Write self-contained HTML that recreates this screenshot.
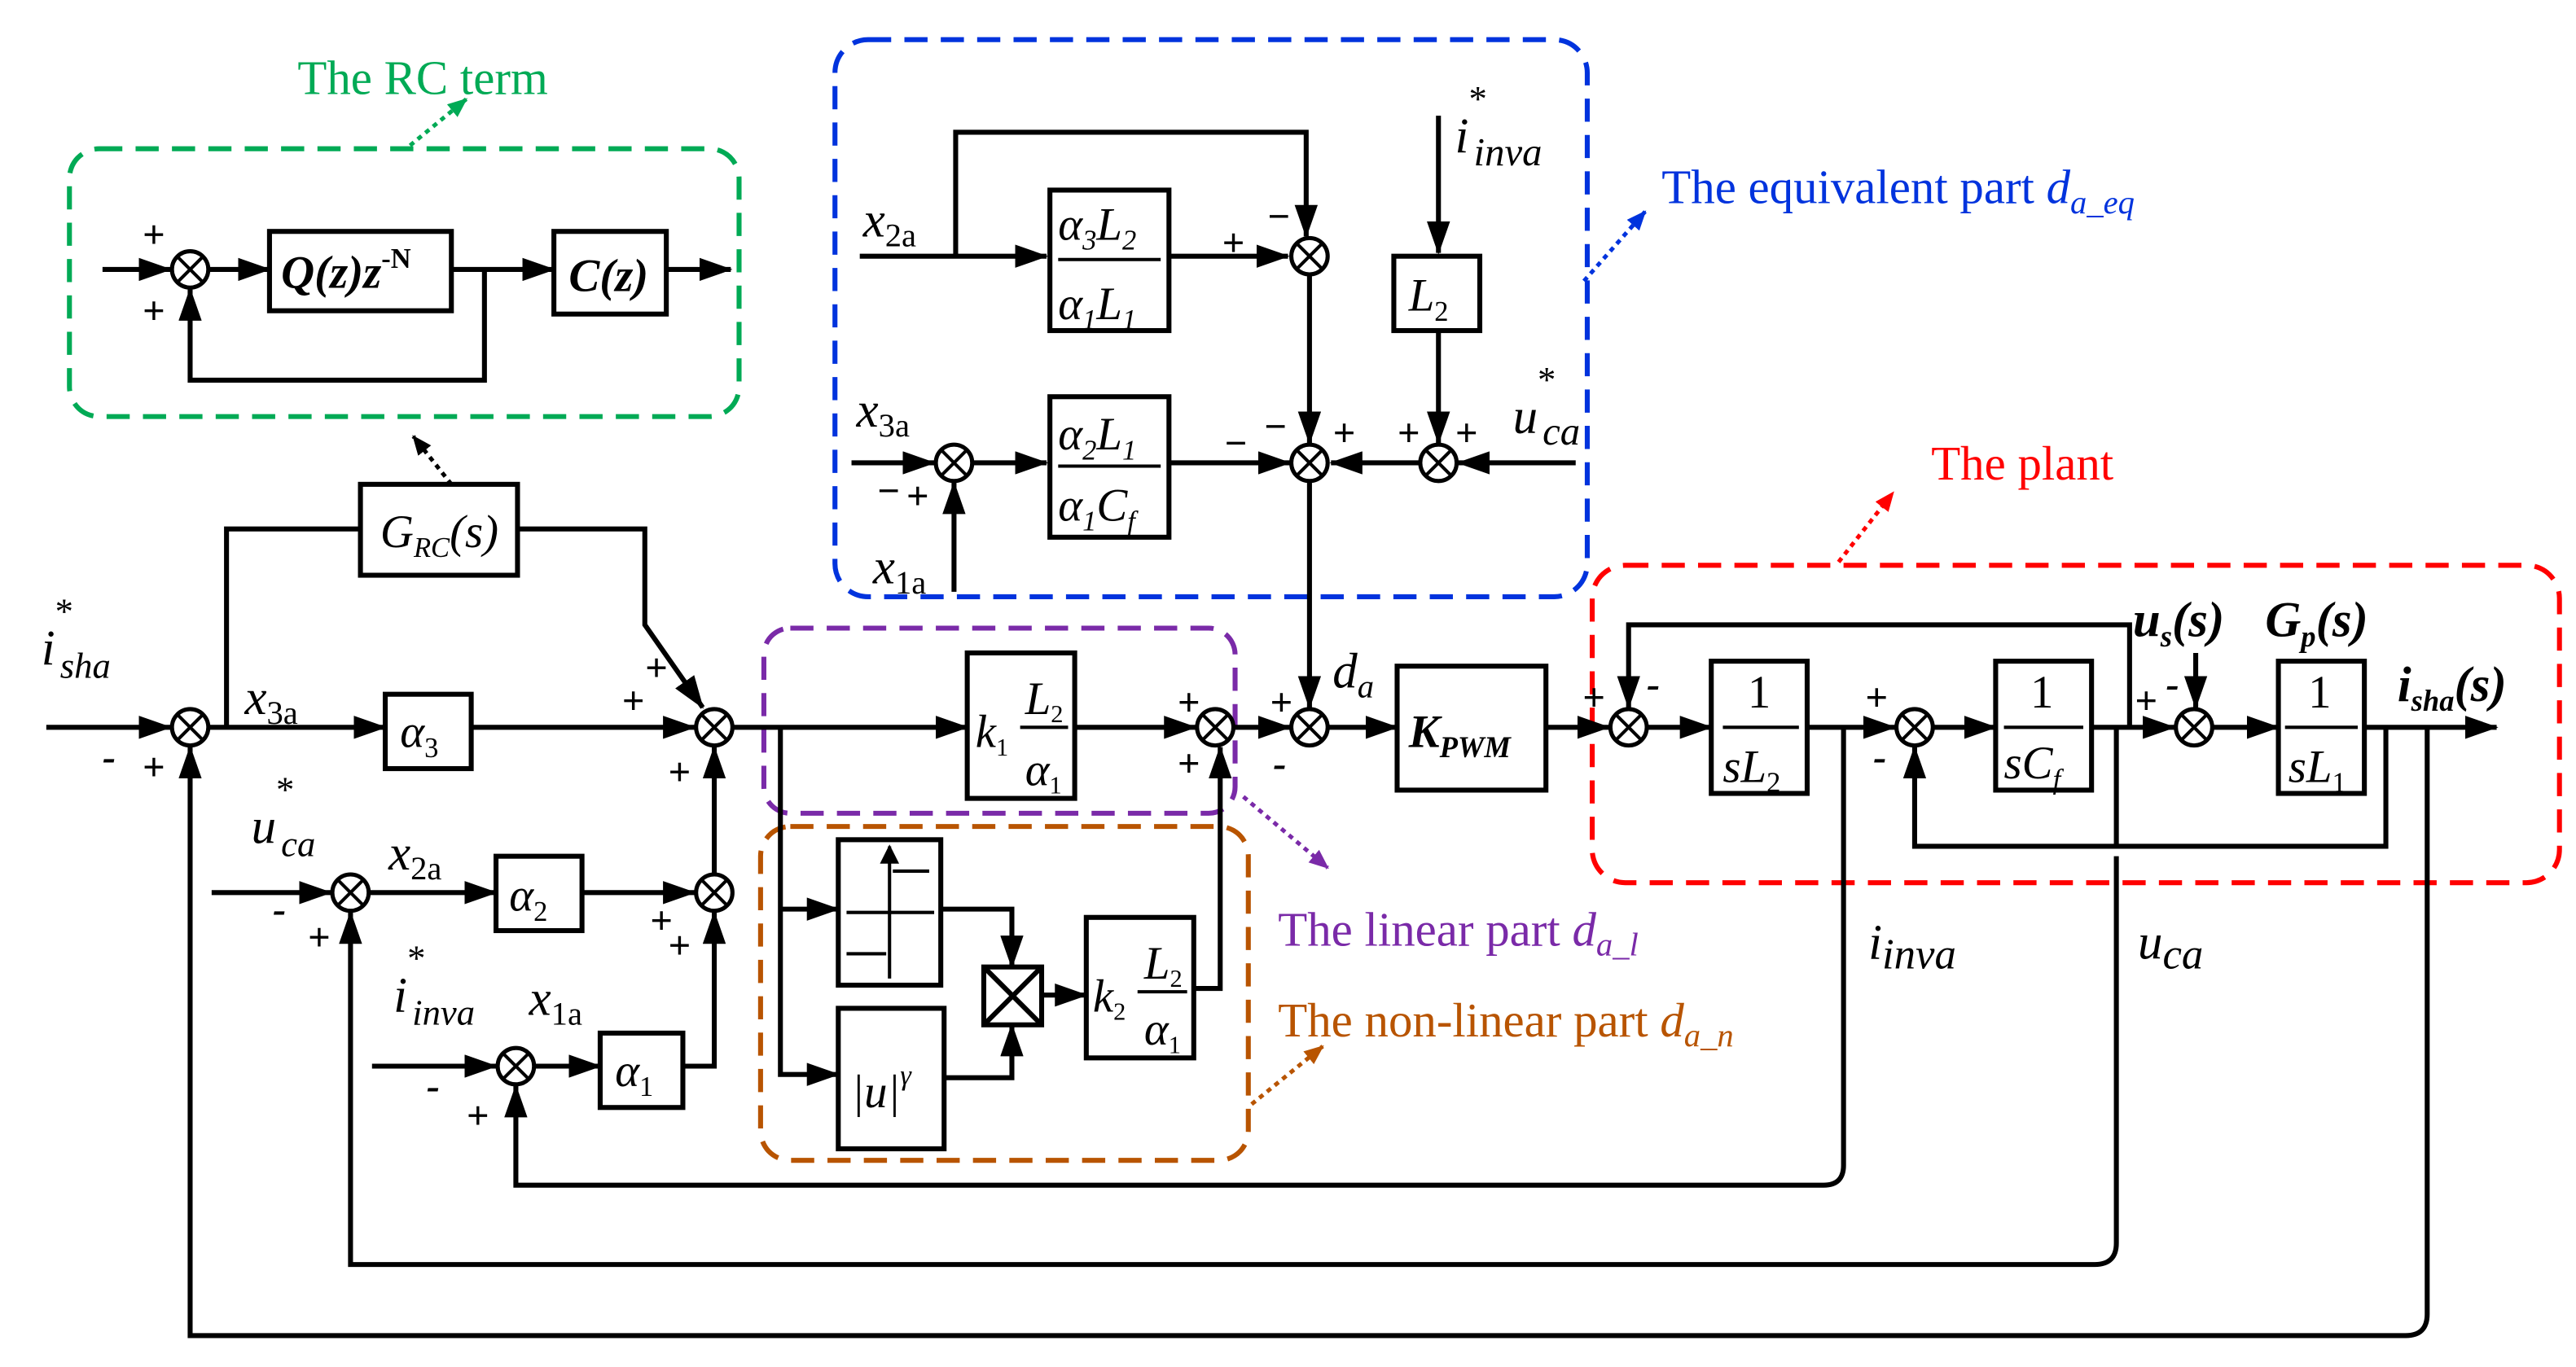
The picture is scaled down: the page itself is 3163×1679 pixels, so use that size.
<!DOCTYPE html>
<html><head><meta charset="utf-8"><style>
html,body{margin:0;padding:0;background:#fff}
svg{display:block}
text{font-family:"Liberation Serif",serif;font-style:italic}
.b{font-weight:bold}
.n{font-style:normal}
</style></head><body>
<svg width="3163" height="1679" viewBox="0 0 1558 827" preserveAspectRatio="none" xmlns="http://www.w3.org/2000/svg">
<defs>
<marker id="a" viewBox="0 0 20 14" refX="19" refY="7" markerWidth="20" markerHeight="14" markerUnits="userSpaceOnUse" orient="auto"><path d="M0,0 L20,7 L0,14 Z" fill="#000"/></marker>
<marker id="ag" viewBox="0 0 12 10" refX="11" refY="5" markerWidth="12" markerHeight="10" markerUnits="userSpaceOnUse" orient="auto"><path d="M0,0 L12,5 L0,10 Z" fill="#0a5"/></marker>
<marker id="ab" viewBox="0 0 12 10" refX="11" refY="5" markerWidth="12" markerHeight="10" markerUnits="userSpaceOnUse" orient="auto"><path d="M0,0 L12,5 L0,10 Z" fill="#0033dd"/></marker>
<marker id="ar" viewBox="0 0 12 10" refX="11" refY="5" markerWidth="12" markerHeight="10" markerUnits="userSpaceOnUse" orient="auto"><path d="M0,0 L12,5 L0,10 Z" fill="#f00"/></marker>
<marker id="ap" viewBox="0 0 12 10" refX="11" refY="5" markerWidth="12" markerHeight="10" markerUnits="userSpaceOnUse" orient="auto"><path d="M0,0 L12,5 L0,10 Z" fill="#7a2aa8"/></marker>
<marker id="ao" viewBox="0 0 12 10" refX="11" refY="5" markerWidth="12" markerHeight="10" markerUnits="userSpaceOnUse" orient="auto"><path d="M0,0 L12,5 L0,10 Z" fill="#b85400"/></marker>
<marker id="ak" viewBox="0 0 12 10" refX="11" refY="5" markerWidth="12" markerHeight="10" markerUnits="userSpaceOnUse" orient="auto"><path d="M0,0 L12,5 L0,10 Z" fill="#000"/></marker>
<g id="s"><circle r="11" fill="#fff" stroke="#000" stroke-width="2.5"/><path d="M-7.5,-7.5L7.5,7.5M7.5,-7.5L-7.5,7.5" stroke="#000" stroke-width="2"/></g>
</defs>

<!-- dashed groups -->
<rect x="42" y="90" width="405" height="162" rx="18" fill="none" stroke="#0a5" stroke-width="3" stroke-dasharray="14,8"/>
<rect x="505" y="24" width="455" height="337" rx="20" fill="none" stroke="#0033dd" stroke-width="3" stroke-dasharray="14,8"/>
<rect x="963" y="342" width="585" height="192" rx="20" fill="none" stroke="#f00" stroke-width="3" stroke-dasharray="14,8"/>
<rect x="462" y="380" width="285" height="112" rx="16" fill="none" stroke="#7a2aa8" stroke-width="3" stroke-dasharray="14,8"/>
<rect x="460" y="500" width="295" height="202" rx="18" fill="none" stroke="#b85400" stroke-width="3" stroke-dasharray="14,8"/>

<text x="180" y="57" font-size="29" fill="#0a5" class="n">The RC term</text>
<line x1="248" y1="88" x2="282" y2="60" stroke="#0a5" stroke-width="2.5" stroke-dasharray="3,3" marker-end="url(#ag)"/>
<text x="1005" y="123" font-size="29" fill="#0033dd"><tspan class="n">The equivalent part </tspan>d<tspan font-size="20" dy="6">a_eq</tspan></text>
<line x1="958" y1="170" x2="995" y2="128" stroke="#0033dd" stroke-width="2.5" stroke-dasharray="3,3" marker-end="url(#ab)"/>
<text x="1168" y="290" font-size="29" fill="#f00" class="n">The plant</text>
<line x1="1112" y1="340" x2="1145" y2="298" stroke="#f00" stroke-width="2.5" stroke-dasharray="3,3" marker-end="url(#ar)"/>
<text x="773" y="572" font-size="29" fill="#7a2aa8"><tspan class="n">The linear part </tspan>d<tspan font-size="20" dy="6">a_l</tspan></text>
<line x1="752" y1="482" x2="803" y2="525" stroke="#7a2aa8" stroke-width="2.5" stroke-dasharray="3,3" marker-end="url(#ap)"/>
<text x="773" y="627" font-size="29" fill="#b85400"><tspan class="n">The non-linear part </tspan>d<tspan font-size="20" dy="6">a_n</tspan></text>
<line x1="757" y1="668" x2="800" y2="633" stroke="#b85400" stroke-width="2.5" stroke-dasharray="3,3" marker-end="url(#ao)"/>
<line x1="273" y1="293" x2="250" y2="264" stroke="#000" stroke-width="2.5" stroke-dasharray="3,3" marker-end="url(#ak)"/>

<g stroke="#000" stroke-width="3" fill="none">
<!-- RC term -->
<line x1="62" y1="163" x2="103" y2="163" marker-end="url(#a)"/>
<line x1="126" y1="163" x2="163" y2="163" marker-end="url(#a)"/>
<line x1="273" y1="163" x2="335" y2="163" marker-end="url(#a)"/>
<line x1="403" y1="163" x2="442" y2="163" marker-end="url(#a)"/>
<polyline points="293,163 293,230 115,230 115,175" marker-end="url(#a)"/>
<rect x="163" y="140" width="110" height="48" fill="#fff"/>
<rect x="335" y="140" width="68" height="50" fill="#fff"/>

<!-- equivalent part -->
<line x1="520" y1="155" x2="633" y2="155" marker-end="url(#a)"/>
<polyline points="578,155 578,80 790,80 790,143" marker-end="url(#a)"/>
<line x1="707" y1="155" x2="779" y2="155" marker-end="url(#a)"/>
<line x1="792" y1="166" x2="792" y2="268" marker-end="url(#a)"/>
<line x1="870" y1="70" x2="870" y2="153" marker-end="url(#a)"/>
<line x1="870" y1="200" x2="870" y2="268" marker-end="url(#a)"/>
<line x1="515" y1="280" x2="565" y2="280" marker-end="url(#a)"/>
<line x1="577" y1="358" x2="577" y2="292" marker-end="url(#a)"/>
<line x1="588" y1="280" x2="633" y2="280" marker-end="url(#a)"/>
<line x1="707" y1="280" x2="780" y2="280" marker-end="url(#a)"/>
<line x1="858" y1="280" x2="805" y2="280" marker-end="url(#a)"/>
<line x1="953" y1="280" x2="882" y2="280" marker-end="url(#a)"/>
<line x1="792" y1="292" x2="792" y2="428" marker-end="url(#a)"/>
<rect x="635" y="115" width="72" height="85" fill="#fff"/>
<rect x="635" y="240" width="72" height="85" fill="#fff"/>
<rect x="843" y="155" width="52" height="45" fill="#fff"/>

<!-- main path -->
<line x1="28" y1="440" x2="103" y2="440" marker-end="url(#a)"/>
<line x1="126" y1="440" x2="233" y2="440" marker-end="url(#a)"/>
<line x1="285" y1="440" x2="420" y2="440" marker-end="url(#a)"/>
<polyline points="137,440 137,320 218,320"/>
<polyline points="313,320 390,320 390,378 425,428" marker-end="url(#a)"/>
<rect x="218" y="293" width="95" height="55" fill="#fff"/>
<rect x="233" y="420" width="52" height="45" fill="#fff"/>
<line x1="443" y1="440" x2="585" y2="440" marker-end="url(#a)"/>
<line x1="650" y1="440" x2="723" y2="440" marker-end="url(#a)"/>
<line x1="746" y1="440" x2="780" y2="440" marker-end="url(#a)"/>
<line x1="803" y1="440" x2="845" y2="440" marker-end="url(#a)"/>
<line x1="935" y1="440" x2="973" y2="440" marker-end="url(#a)"/>
<line x1="996" y1="440" x2="1035" y2="440" marker-end="url(#a)"/>
<line x1="1093" y1="440" x2="1146" y2="440" marker-end="url(#a)"/>
<line x1="1169" y1="440" x2="1207" y2="440" marker-end="url(#a)"/>
<line x1="1265" y1="440" x2="1315" y2="440" marker-end="url(#a)"/>
<line x1="1338" y1="440" x2="1378" y2="440" marker-end="url(#a)"/>
<line x1="1430" y1="440" x2="1510" y2="440" marker-end="url(#a)"/>
<polyline points="1288,440 1288,378 985,378 985,428" marker-end="url(#a)"/>
<polyline points="1443,440 1443,512 1158,512 1158,452" marker-end="url(#a)"/>
<line x1="1328" y1="395" x2="1328" y2="428" marker-end="url(#a)"/>
<path d="M1115,440 V705 Q1115,717 1103,717 H312 V657" marker-end="url(#a)"/>
<path d="M1280,440 V512 M1280,518 V752 Q1280,765 1267,765 H212 V552" marker-end="url(#a)"/>
<path d="M1468,440 V795 Q1468,808 1455,808 H115 V452" marker-end="url(#a)"/>
<rect x="585" y="395" width="65" height="88" fill="#fff"/>
<rect x="845" y="403" width="90" height="75" fill="#fff"/>
<rect x="1035" y="400" width="58" height="80" fill="#fff"/>
<rect x="1207" y="400" width="58" height="78" fill="#fff"/>
<rect x="1378" y="400" width="52" height="80" fill="#fff"/>

<!-- lower left -->
<line x1="128" y1="540" x2="200" y2="540" marker-end="url(#a)"/>
<line x1="223" y1="540" x2="300" y2="540" marker-end="url(#a)"/>
<line x1="352" y1="540" x2="420" y2="540" marker-end="url(#a)"/>
<line x1="432" y1="529" x2="432" y2="452" marker-end="url(#a)"/>
<line x1="225" y1="645" x2="300" y2="645" marker-end="url(#a)"/>
<line x1="323" y1="645" x2="363" y2="645" marker-end="url(#a)"/>
<polyline points="413,645 432,645 432,552" marker-end="url(#a)"/>
<rect x="300" y="518" width="52" height="45" fill="#fff"/>
<rect x="363" y="625" width="50" height="45" fill="#fff"/>

<!-- nonlinear -->
<polyline points="472,440 472,650 507,650" marker-end="url(#a)"/>
<line x1="472" y1="550" x2="507" y2="550" marker-end="url(#a)"/>
<polyline points="569,550 612,550 612,585" marker-end="url(#a)"/>
<polyline points="571,652 612,652 612,620" marker-end="url(#a)"/>
<line x1="630" y1="602" x2="657" y2="602" marker-end="url(#a)"/>
<polyline points="722,598 738,598 738,452" marker-end="url(#a)"/>
<rect x="507" y="508" width="62" height="88" fill="#fff"/>
<rect x="507" y="610" width="64" height="85" fill="#fff"/>
<rect x="595" y="585" width="35" height="35" fill="#fff"/>
<path d="M595,585 L630,620 M630,585 L595,620"/>
<rect x="657" y="555" width="65" height="85" fill="#fff"/>
<!-- sign fn -->
<path d="M538,512 V592 M512,552 H565 M512,577 H536 M540,527 H562" stroke-width="2"/>
<path d="M538,512 l-5,10 h10 z" fill="#000" stroke-width="1"/>
<!-- fraction bars -->
<path d="M640,157 H702 M640,282 H702 M1042,440 H1088 M1212,440 H1260 M1382,440 H1426 M617,440 H646 M688,600 H718" stroke-width="2"/>
</g>

<!-- sums -->
<use href="#s" x="115" y="163"/>
<use href="#s" x="792" y="155"/><use href="#s" x="792" y="280"/><use href="#s" x="870" y="280"/><use href="#s" x="577" y="280"/>
<use href="#s" x="115" y="440"/><use href="#s" x="432" y="440"/><use href="#s" x="735" y="440"/><use href="#s" x="792" y="440"/>
<use href="#s" x="985" y="440"/><use href="#s" x="1158" y="440"/><use href="#s" x="1327" y="440"/>
<use href="#s" x="212" y="540"/><use href="#s" x="432" y="540"/><use href="#s" x="312" y="645"/>

<!-- block labels -->
<g font-size="28">
<text x="170" y="174" class="b">Q(z)z<tspan font-size="17" dy="-12" class="n">-N</tspan></text>
<text x="344" y="176" class="b">C(z)</text>
<text x="640" y="145">α<tspan font-size="17" dy="6">3</tspan><tspan dy="-6">L</tspan><tspan font-size="17" dy="6">2</tspan></text>
<text x="640" y="193">α<tspan font-size="17" dy="6">1</tspan><tspan dy="-6">L</tspan><tspan font-size="17" dy="6">1</tspan></text>
<text x="640" y="272">α<tspan font-size="17" dy="6">2</tspan><tspan dy="-6">L</tspan><tspan font-size="17" dy="6">1</tspan></text>
<text x="640" y="315">α<tspan font-size="17" dy="6">1</tspan><tspan dy="-6">C</tspan><tspan font-size="17" dy="6">f</tspan></text>
<text x="852" y="188">L<tspan font-size="17" dy="6" class="n">2</tspan></text>
<text x="230" y="331">G<tspan font-size="17" dy="6">RC</tspan><tspan dy="-6">(s)</tspan></text>
<text x="242" y="452">α<tspan font-size="17" dy="6" class="n">3</tspan></text>
<text x="308" y="551">α<tspan font-size="17" dy="6" class="n">2</tspan></text>
<text x="372" y="657">α<tspan font-size="17" dy="6" class="n">1</tspan></text>
<text x="590" y="452">k<tspan font-size="15" dy="5" class="n">1</tspan></text>
<text x="620" y="432">L<tspan font-size="15" dy="5" class="n">2</tspan></text>
<text x="620" y="475">α<tspan font-size="15" dy="5" class="n">1</tspan></text>
<text x="661" y="612">k<tspan font-size="15" dy="5" class="n">2</tspan></text>
<text x="692" y="592">L<tspan font-size="15" dy="5" class="n">2</tspan></text>
<text x="692" y="632">α<tspan font-size="15" dy="5" class="n">1</tspan></text>
<text x="515" y="670">|u|<tspan font-size="17" dy="-14">γ</tspan></text>
<text x="852" y="452" class="b">K<tspan font-size="18" dy="6">PWM</tspan></text>
<text x="1057" y="428" class="n">1</text><text x="1042" y="473">sL<tspan font-size="17" dy="6" class="n">2</tspan></text>
<text x="1228" y="428" class="n">1</text><text x="1212" y="471">sC<tspan font-size="17" dy="6">f</tspan></text>
<text x="1396" y="428" class="n">1</text><text x="1384" y="473">sL<tspan font-size="17" dy="6" class="n">1</tspan></text>
</g>

<!-- signal labels -->
<g font-size="30">
<text x="522" y="143">x<tspan font-size="20" dy="6" class="n">2a</tspan></text>
<text x="518" y="258">x<tspan font-size="20" dy="6" class="n">3a</tspan></text>
<text x="528" y="353">x<tspan font-size="20" dy="6" class="n">1a</tspan></text>
<text x="880" y="92">i<tspan font-size="22" dy="-25" class="n">*</tspan><tspan font-size="24" dx="-8" dy="33">inva</tspan></text>
<text x="915" y="262">u<tspan font-size="22" dy="-25" class="n">*</tspan><tspan font-size="24" dx="-8" dy="32">ca</tspan></text>
<text x="25" y="402">i<tspan font-size="22" dy="-25" class="n">*</tspan><tspan font-size="22" dx="-8" dy="33">sha</tspan></text>
<text x="148" y="432">x<tspan font-size="20" dy="6" class="n">3a</tspan></text>
<text x="152" y="510">u<tspan font-size="22" dy="-25" class="n">*</tspan><tspan font-size="22" dx="-8" dy="33">ca</tspan></text>
<text x="235" y="526">x<tspan font-size="20" dy="6" class="n">2a</tspan></text>
<text x="238" y="612">i<tspan font-size="22" dy="-25" class="n">*</tspan><tspan font-size="22" dx="-8" dy="33">inva</tspan></text>
<text x="320" y="614">x<tspan font-size="20" dy="6" class="n">1a</tspan></text>
<text x="806" y="416">d<tspan font-size="20" dy="6">a</tspan></text>
<text x="1130" y="580">i<tspan font-size="26" dy="6">inva</tspan></text>
<text x="1293" y="580">u<tspan font-size="26" dy="6">ca</tspan></text>
<text x="1290" y="385" class="b">u<tspan font-size="18" dy="6">s</tspan><tspan dy="-6">(s)</tspan></text>
<text x="1370" y="385" class="b">G<tspan font-size="18" dy="6">p</tspan><tspan dy="-6">(s)</tspan></text>
<text x="1450" y="424" class="b">i<tspan font-size="18" dy="6">sha</tspan><tspan dy="-6">(s)</tspan></text>
</g>

<!-- signs -->
<g font-size="24" font-weight="bold" class="n" style="font-style:normal">
<text x="86" y="150">+</text><text x="86" y="196">+</text>
<text x="739" y="155">+</text><text x="766" y="139">−</text>
<text x="740" y="276">−</text><text x="764" y="266">−</text><text x="806" y="270">+</text><text x="845" y="270">+</text><text x="880" y="270">+</text>
<text x="530" y="305">−</text><text x="548" y="308">+</text>
<text x="62" y="466">-</text><text x="86" y="472">+</text>
<text x="390" y="412">+</text><text x="376" y="432">+</text><text x="404" y="475">+</text>
<text x="712" y="433">+</text><text x="712" y="470">+</text>
<text x="768" y="433">+</text><text x="770" y="470">-</text>
<text x="957" y="430">+</text><text x="996" y="422">-</text>
<text x="1128" y="430">+</text><text x="1133" y="466">-</text>
<text x="1291" y="432">+</text><text x="1310" y="422">-</text>
<text x="165" y="558">-</text><text x="186" y="575">+</text>
<text x="393" y="565">+</text><text x="404" y="580">+</text>
<text x="258" y="665">-</text><text x="282" y="683">+</text>
</g>
</svg>
</body></html>
